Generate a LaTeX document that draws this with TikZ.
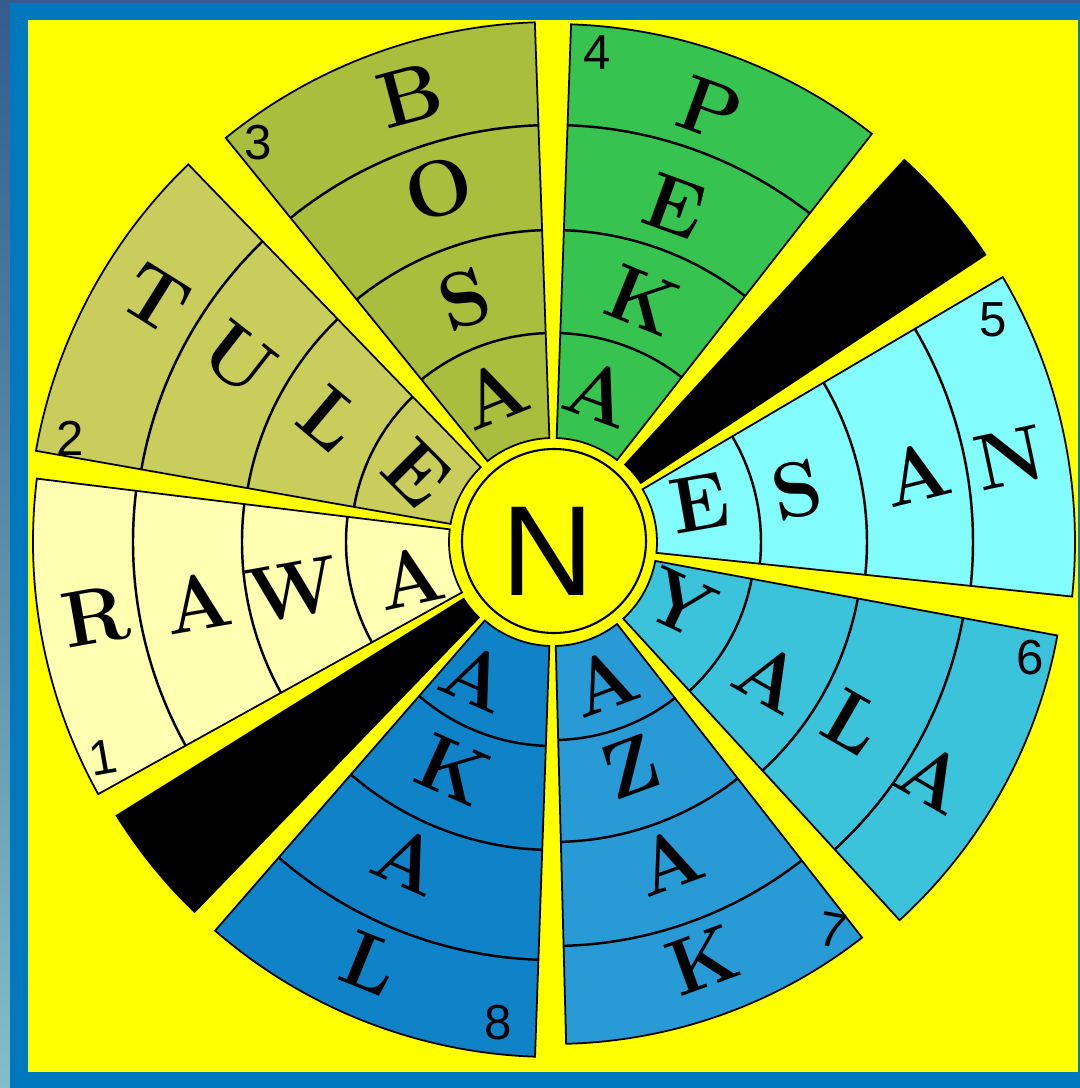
\documentclass[tikz,border=0pt]{standalone}
\usepackage{fontspec}
\usepackage{tikz}
\newfontfamily\numfont{Liberation Sans}
\definecolor{frameblue}{RGB}{0,120,190}
\definecolor{frameslate}{RGB}{52,92,140}
\definecolor{frameteal}{RGB}{130,190,200}
\definecolor{sunyellow}{RGB}{255,255,0}
\definecolor{secone}{RGB}{255,255,178}
\definecolor{sectwo}{RGB}{200,205,92}
\definecolor{secthree}{RGB}{168,190,60}
\definecolor{secfour}{RGB}{55,195,80}
\definecolor{secfive}{RGB}{130,252,252}
\definecolor{secsix}{RGB}{60,195,220}
\definecolor{secseven}{RGB}{40,155,215}
\definecolor{seceight}{RGB}{15,130,200}

\begin{document}
\begin{tikzpicture}[
                  sec/.style={draw=black, line width=0.5pt},
                  cell/.style={black, line width=0.7pt},
                  ltr/.style={font=\fontsize{22.5}{27}\selectfont\bfseries, inner sep=0pt},
                  num/.style={font=\numfont\fontsize{14}{16}\selectfont, inner sep=0pt},
                  hubdisc/.style={circle, draw, fill=sunyellow, line width=0.6pt,
                                  minimum size=1.84cm, inner sep=0pt},
            ]

            % ---- frame ----
            \useasboundingbox (-5.53,-5.46) rectangle (5.27,5.42);
            \fill[frameblue] (-5.53,-5.46) rectangle (5.27,5.42);
            \shade[top color=frameslate, bottom color=frameteal] (-5.53,-5.46) rectangle (-5.43,5.42);
            \fill[frameslate] (-5.53,5.39) rectangle (5.27,5.42);
            \fill[sunyellow] (-5.25,-5.30) rectangle (5.25,5.22);

            % ---- word sectors (start/end angle, outer radius) ----
            \foreach \sa/\sb/\ro/\col in {
                        173/209/5.20/secone, 134/170/5.25/sectwo,
                        92/129/5.20/secthree, 52/88/5.18/secfour,
                        -6/30.5/5.22/secfive, -47.5/-10.5/5.13/secsix,
                        -88.5/-52/5.02/secseven, -131/-92/5.15/seceight}{
                        \filldraw[sec, fill=\col] (\sa:1.04) arc (\sa:\sb:1.04)
                        -- (\sb:\ro) arc (\sb:\sa:\ro) -- cycle;
                  }

            % ---- black blanks ----
            \fill[black] (33.5:1.05) arc (33.5:47.5:1.05) -- (47.5:5.20) arc (47.5:33.5:5.20) -- cycle;
            \fill[black] (-148:1.05) arc (-148:-134:1.05) -- (-134:5.16) arc (-134:-148:5.16) -- cycle;

            % ---- cell rings ----
            \foreach \sa/\sb/\ra/\rb/\rc in {
                        173/209/2.07/3.11/4.20, 134/170/2.02/3.10/4.18,
                        92/129/2.09/3.12/4.17, 52/88/2.09/3.12/4.17,
                        -6/30.5/2.08/3.14/4.20, -47.5/-10.5/2.02/3.10/4.17,
                        -88.5/-52/1.98/3.00/4.04, -131/-92/2.04/3.08/4.18}{
                        \foreach \r in {\ra,\rb,\rc}
                        \draw[cell] (\sa:\r) arc (\sa:\sb:\r);
                  }

            % ---- hub ----
            \node[hubdisc] (hubring) at (0.01,0.01) {};
            \node[font=\numfont\fontsize{36.5}{40}\selectfont, inner sep=0pt] (hub) at (-0.05,-0.09) {N};

            % ---- letters (angle/radius/rotation) ----
            \foreach \ang/\rad/\rot/\l [count=\i] in {
                        189.3/4.64/10/R, 189.7/3.60/10/A, 190.5/2.64/10/W, 193.8/1.47/12/A,
                        148.4/4.66/-32/T, 149.8/3.64/-38/U, 151/2.54/-40/L, 153/1.52/-45/E,
                        107.7/4.69/15/B, 108/3.71/15/O, 110/2.58/18/S, 112/1.59/22/A,
                        70/4.60/-20/P, 70/3.57/-20/E, 69.6/2.58/-22/K, 72.5/1.56/-20/A,
                        14.9/1.52/10/E, 12/2.49/12/S, 10.7/3.70/14/A, 10.5/4.65/12/N,
                        -25.6/1.41/-25/Y, -31.9/2.56/-30/A, -31/3.50/-30/L, -31.7/4.47/-30/A,
                        -70.3/1.49/20/A, -71/2.38/20/Z, -70/3.39/20/A, -70.3/4.44/20/K,
                        -119.4/1.55/-24/A, -113.7/2.49/-24/K, -114.5/3.49/-24/A, -113.5/4.59/-22/L}{
                        \node[ltr, rotate=\rot] (L\i) at (\ang:\rad) {\l};
                  }

            % ---- sector numbers ----
            \foreach \x/\y/\rot/\n in {
                        -4.50/-2.15/10/1, -4.83/1.04/0/2, -2.95/3.99/0/3, 0.44/4.89/0/4,
                        4.40/2.22/0/5, 4.77/-1.16/0/6, 2.80/-3.88/-10/7, -0.55/-4.81/0/8}{
                        \node[num, rotate=\rot] (n\n) at (\x,\y) {\n};
                  }

      \end{tikzpicture}
\end{document}
